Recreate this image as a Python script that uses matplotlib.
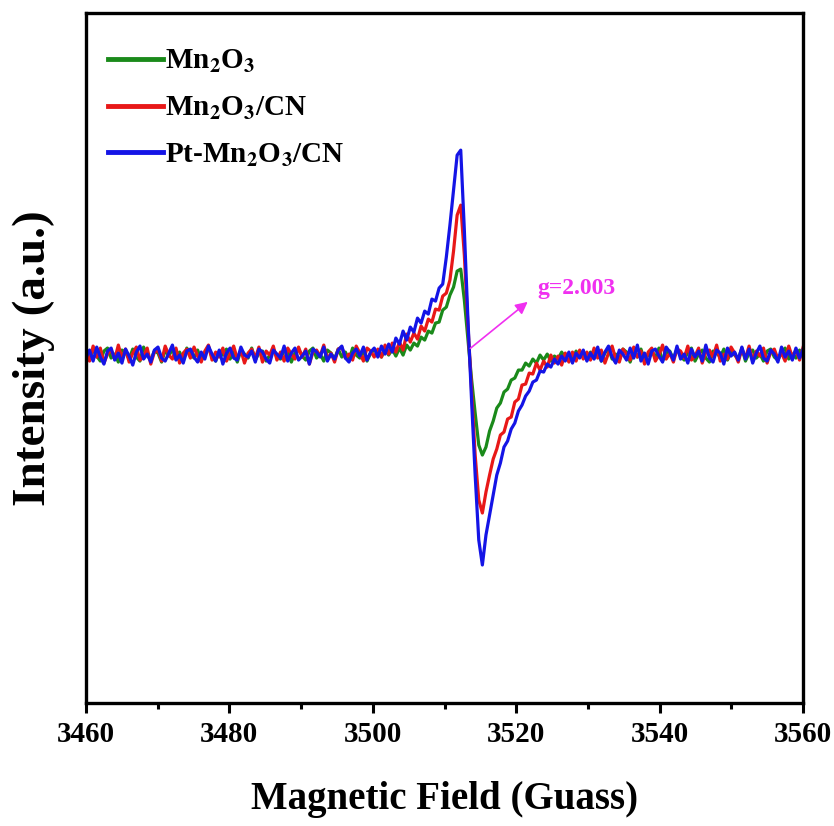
import matplotlib
matplotlib.use("Agg")
import matplotlib.pyplot as plt
import numpy as np
from matplotlib.ticker import MultipleLocator

# EPR spectra, 0.5 G steps, 3460 -> 3560 G (arbitrary units, baseline = 0)
# each series is stored as three pieces: left baseline, signal region, right baseline
mn2o3_left = [2, -5, 6, -1, -6, 4, 7, -3, 1, -7, 5, 3, -4, 6, -2, -6, 8, 0, -5, 4,
              2, -7, 5, -1, 6, -4, 3, -6, 7, 1, -3, 5, -5, 2, 8, -2, -6, 4, 0, 6,
              -4, 3, -7, 5, 1, -3, 7, -5, 2, 4, -6, 0, 6, -2, -4, 5, 3, -7, 2, 6,
              -1, -5, 4, 7, -3, 1, -6, 5, 2, -4, 6, -2, 3, -5, 7, 0, -3, 4, -6, 2, 5]
mn2o3_mid = [4, -2, 6, 0, 6, -1, 7, 0, 10, 5, 12, 9, 18, 15, 24, 22, 32, 33, 45, 48,
             60, 68, 84, 86, 55, 15, -24, -58, -90, -100, -92, -76, -66, -53, -48, -37, -34, -25, -23, -15,
             -15, -8, -11, -4, -8, 0, -5, 1, -6, -1, -4, 3, -3, 1, -5, 4, -2, 2, -4, 3]
mn2o3_right = [-3, 5, -6, 2, 7, -4, 1, -5, 6, 3, -7, 4, -2, 6, -5, 0, 5, -3, 7, -6,
               2, 4, -4, 6, -1, -5, 3, 7, -6, 1, 5, -3, -7, 4, 2, -2, 6, -5, 3, 0,
               -4, 7, -6, 2, 5, -3, 1, -6, 4, 6, -2, -5, 3, 7, -4, 1, -3, 5, -1]

cn_left = [4, -6, 9, -2, 7, -8, 1, 5, -4, 10, -3, 6, -7, 2, 8, -5, -1, 7, -9, 3,
           5, -6, 9, 0, -4, 7, -8, 2, 6, -3, 8, -1, -7, 4, 10, -5, 3, -2, 7, -6,
           1, 9, -4, 5, -8, 2, 6, -3, 8, -7, 4, 0, 9, -5, 3, -6, 7, 1, -4, 8,
           -2, 6, -9, 3, 5, -1, 10, -4, 2, -7, 6, 8, -3, 1, -5, 9, 2, -6, 7, 4, -2]
cn_mid = [6, -2, 10, 1, 12, 3, 13, 5, 21, 13, 22, 16, 29, 24, 36, 33, 46, 45, 59, 62,
          75, 104, 140, 150, 100, 30, -35, -100, -145, -158, -137, -120, -104, -94, -80, -77, -64, -62, -47, -44,
          -30, -29, -18, -19, -8, -15, -6, -12, 0, -8, -1, -10, 2, -7, 3, -6, 5, -4, 3, -5]
cn_right = [7, -3, 5, -8, 2, 9, -4, -7, 6, 1, -5, 8, -2, 4, -9, 3, 7, -6, 0, 10,
            -4, 2, -7, 6, 4, -3, 9, -5, -1, 7, -8, 3, 5, -2, 10, -6, 1, -4, 8, 2,
            -7, 6, -3, 9, -5, 4, -1, 7, -8, 3, 6, -4, 2, -6, 9, -2, 5, -5, 8]

pt_left = [-3, 5, -6, 8, -2, -9, 4, 7, -5, 2, -8, 6, -1, -10, 3, 9, -4, 1, -7, 5,
           8, -3, -6, 2, 10, -5, 0, -8, 4, 6, -2, -7, 3, -4, 9, 1, -6, 5, -9, 2,
           7, -3, -5, 8, 0, -2, 4, -7, 6, 3, -4, -8, 5, 1, -3, 9, -6, 2, 7, -5,
           -1, 4, -9, 6, 3, -2, 8, -6, 1, -4, 5, 9, -3, -7, 2, 6, -1, 8, -5, 3, 7]
pt_mid = [-2, 9, 1, 11, 3, 17, 11, 24, 15, 28, 23, 37, 32, 44, 41, 56, 54, 67, 71, 98,
          130, 165, 200, 205, 125, 35, -45, -120, -185, -210, -180, -160, -140, -120, -108, -92, -86, -74, -68, -56,
          -50, -41, -36, -27, -25, -16, -17, -9, -12, -4, -9, -1, -6, 3, -8, 2, -3, 5, -6, 2]
pt_right = [-4, 8, -6, 3, 9, -2, -8, 5, 1, -5, 7, -3, 10, -6, 2, -9, 4, 6, -1, -7,
            8, 3, -5, 9, -4, 1, -8, 6, -2, 4, -6, 10, -3, -7, 5, 2, -9, 7, -1, 3,
            -5, 8, -4, 6, -8, 2, 9, -3, -6, 5, 1, -7, 8, -2, 4, -5, 7, -3, 6]

labels = ["Mn$_\\mathbf{2}$O$_\\mathbf{3}$",
          "Mn$_\\mathbf{2}$O$_\\mathbf{3}$/CN",
          "Pt-Mn$_\\mathbf{2}$O$_\\mathbf{3}$/CN"]
colors = ["#1a8a1a", "#e81818", "#1414e6"]
series = [mn2o3_left + mn2o3_mid + mn2o3_right,
          cn_left + cn_mid + cn_right,
          pt_left + pt_mid + pt_right]

plt.rcParams['font.family'] = ['Liberation Serif', 'DejaVu Serif']
plt.rcParams['font.weight'] = 'bold'
plt.rcParams['mathtext.fontset'] = 'stix'

fig = plt.figure(figsize=(8.34, 8.26), dpi=100)
ax = fig.add_axes([0.103, 0.149, 0.860, 0.835])

for y, c, lab in zip(series, colors, labels):
    x = np.linspace(3460, 3560, len(y))
    ax.plot(x, y, color=c, lw=2.3, label=lab)

ax.set_xlim(3460, 3560)
ax.set_ylim(-348, 342)
ax.xaxis.set_major_locator(MultipleLocator(20))
ax.xaxis.set_minor_locator(MultipleLocator(10))
ax.set_yticks([])
ax.tick_params(axis='x', which='major', length=7, width=2.2, direction='out',
               labelsize=21, pad=6)
ax.tick_params(axis='x', which='minor', length=4, width=2.2, direction='out')
for s in ax.spines.values():
    s.set_linewidth(2.4)

ax.set_xlabel("Magnetic Field (Guass)", fontsize=28, fontweight='bold', labelpad=24)
ax.set_ylabel("Intensity (a.u.)", fontsize=34, fontweight='bold', labelpad=22)

# g-value marker
ax.annotate("", xy=(3521.9, 55), xytext=(3513.3, 5),
            arrowprops=dict(arrowstyle='-|>', color='#f030f0', lw=1.2,
                            mutation_scale=18))
ax.text(3522.9, 67, "g=2.003", color='#f030f0', fontsize=17, fontweight='bold',
        va='center', ha='left')

leg = ax.legend(loc='upper left', bbox_to_anchor=(0.0, 0.981), frameon=False,
                fontsize=21, handlelength=1.9, handletextpad=0.05,
                labelspacing=0.67, borderaxespad=0.35)
for line in leg.get_lines():
    line.set_linewidth(3.5)

fig.savefig("out.png", dpi=100)
